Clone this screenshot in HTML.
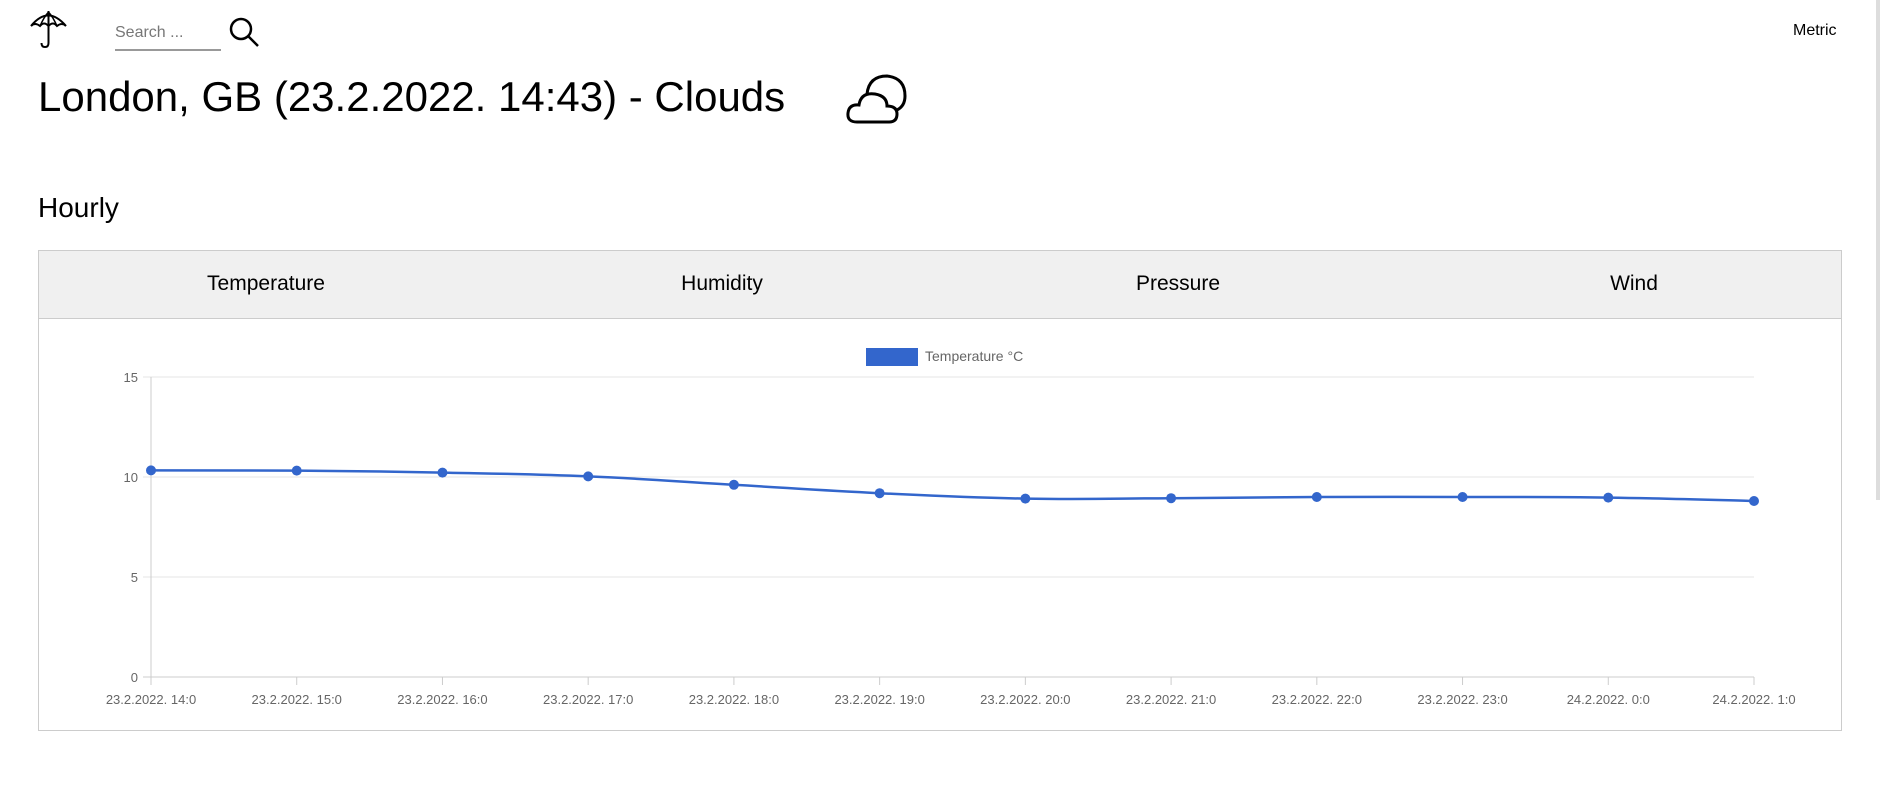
<!DOCTYPE html>
<html><head><meta charset="utf-8">
<style>
body{margin:0;width:1880px;height:804px;background:#fff;font-family:"Liberation Sans",sans-serif;position:relative;overflow:hidden}
.abs{position:absolute}
</style></head><body>
<svg class="abs" style="left:28px;top:9px" width="44" height="40" viewBox="0 0 44 40">
<path d="M3 17 Q20 -4 38 17 Q34 13 29 17 Q25 12 20.5 17 Q16 12 12 17 Q7 13 3 17Z" fill="none" stroke="#000" stroke-width="2"/>
<line x1="20.5" y1="2" x2="20.5" y2="17" stroke="#000" stroke-width="2"/>
<path d="M12 17 Q16 8 20.5 3 Q25 8 29 17" fill="none" stroke="#000" stroke-width="1.5"/>
<path d="M20.5 17 V34 Q20.5 38 17 38 Q13.5 38 13.5 34" fill="none" stroke="#000" stroke-width="2"/>
</svg>
<div class="abs" style="left:115px;top:22px;width:106px;height:27px;border-bottom:2px solid #999;color:#777;font-size:16px;line-height:22px">Search ...</div>
<svg class="abs" style="left:228px;top:16px" width="32" height="32" viewBox="0 0 32 32">
<circle cx="13" cy="13" r="10" fill="none" stroke="#000" stroke-width="2.5"/><line x1="20" y1="20" x2="30" y2="30" stroke="#000" stroke-width="2.5"/>
</svg>
<div class="abs" style="left:1793px;top:22px;font-size:16px;color:#000">Metric</div>
<div class="abs" style="left:38px;top:73px;font-size:42px;color:#000;white-space:nowrap">London, GB (23.2.2022. 14:43) - Clouds</div>
<svg class="abs" style="left:845px;top:70px" width="68" height="56" viewBox="0 0 68 56">
<path d="M22 24 Q24 6 42 6 Q60 8 60 26 Q60 36 52 40" fill="none" stroke="#000" stroke-width="3"/>
<path d="M12 52 Q2 52 3 43 Q4 34 14 35 Q16 22 30 24 Q42 26 42 36 Q52 36 52 44 Q52 52 44 52 Z" fill="none" stroke="#000" stroke-width="3"/>
</svg>
<div class="abs" style="left:38px;top:192px;font-size:28px;color:#000">Hourly</div>
<div class="abs" style="left:38px;top:250px;width:1804px;height:481px;border:1px solid #ccc;box-sizing:border-box"></div>
<div class="abs" style="left:39px;top:251px;width:1802px;height:67px;background:#f0f0f0;border-bottom:1px solid #ccc"></div>
<div class="abs" style="left:166px;top:272px;width:200px;text-align:center;font-size:21px">Temperature</div>
<div class="abs" style="left:622px;top:272px;width:200px;text-align:center;font-size:21px">Humidity</div>
<div class="abs" style="left:1078px;top:272px;width:200px;text-align:center;font-size:21px">Pressure</div>
<div class="abs" style="left:1534px;top:272px;width:200px;text-align:center;font-size:21px">Wind</div>
<div class="abs" style="left:1876px;top:0;width:4px;height:500px;background:#ddd"></div>
<svg id="chart" class="abs" style="left:0;top:0" width="1880" height="804"></svg>
<script>
const categories=["23.2.2022. 14:0","23.2.2022. 15:0","23.2.2022. 16:0","23.2.2022. 17:0","23.2.2022. 18:0","23.2.2022. 19:0","23.2.2022. 20:0","23.2.2022. 21:0","23.2.2022. 22:0","23.2.2022. 23:0","24.2.2022. 0:0","24.2.2022. 1:0"];
const temps=[10.33,10.32,10.22,10.03,9.61,9.19,8.92,8.94,9.0,9.0,8.97,8.8];
const yTicks=[0,5,10,15];
const seriesLabel="Temperature °C";
const NS="http://www.w3.org/2000/svg",svg=document.getElementById('chart');
const X0=151,X1=1754,Y0=677,Y1=377,YMAX=15;
const xs=i=>X0+(X1-X0)*i/(categories.length-1);
const ys=v=>Y0-(Y0-Y1)*v/YMAX;
function mk(t,a,p){const e=document.createElementNS(NS,t);for(const k in a)e.setAttribute(k,a[k]);(p||svg).appendChild(e);return e;}
yTicks.forEach(v=>{
 const l=mk('line',{x1:X0-8,x2:X1,y1:ys(v),y2:ys(v),stroke:v===0?'#ccc':'#e5e5e5','stroke-width':1});
 
 
 const t=mk('text',{x:X0-13,y:ys(v)+5,'text-anchor':'end','font-size':13,fill:'#666','font-family':'Liberation Sans'});
 t.textContent=v;
 
 
});
const ax=mk('line',{x1:X0,x2:X0,y1:Y1,y2:Y0+8,stroke:'#ccc'});


categories.forEach((c,i)=>{
 const l=mk('line',{x1:xs(i),x2:xs(i),y1:Y0,y2:Y0+8,stroke:'#ccc'});
 
 
 const t=mk('text',{x:xs(i),y:Y0+27,'text-anchor':'middle','font-size':13,fill:'#666','font-family':'Liberation Sans'});
 t.textContent=c;
 
 
});
const pts=temps.map((v,i)=>[xs(i),ys(v)]);
let d='M'+pts[0][0]+' '+pts[0][1];const k=0.4/2;
for(let i=0;i<pts.length-1;i++){
 const p0=pts[Math.max(0,i-1)],p1=pts[i],p2=pts[i+1],p3=pts[Math.min(pts.length-1,i+2)];
 const c1=[p1[0]+(p2[0]-p0[0])*k,p1[1]+(p2[1]-p0[1])*k],c2=[p2[0]-(p3[0]-p1[0])*k,p2[1]-(p3[1]-p1[1])*k];
 d+=` C${c1[0]} ${c1[1]} ${c2[0]} ${c2[1]} ${p2[0]} ${p2[1]}`;
}
const line=mk('path',{d:d,fill:'none',stroke:'#3366cc','stroke-width':2.5});


pts.forEach(p=>{
 const c=mk('circle',{cx:p[0],cy:p[1],r:5,fill:'#3366cc'});
 
 
});
const lb=mk('rect',{x:866,y:348,width:52,height:18,fill:'#3366cc'});


const lt=mk('text',{x:925,y:361,'font-size':14,fill:'#666','font-family':'Liberation Sans'});
lt.textContent=seriesLabel;


</script>
</body></html>
